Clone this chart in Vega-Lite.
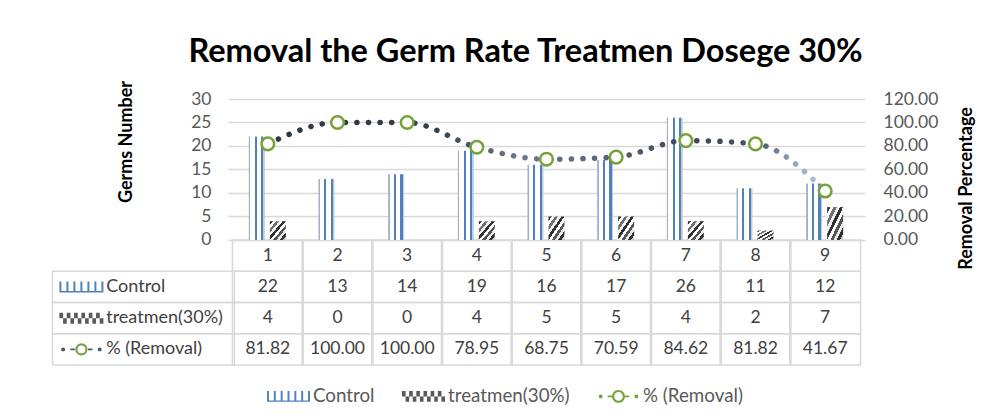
{
  "$schema": "https://vega.github.io/schema/vega-lite/v6.json",
  "width": 637,
  "height": 266,
  "autosize": {"type": "none"},
  "padding": {"left": 228, "top": 99, "right": 118, "bottom": 55},
  "background": "white",
  "config": {
    "view": {"stroke": null},
    "font": "Lato"
  },
  "title": {
    "text": "Removal the Germ Rate Treatmen Dosege 30%",
    "font": "Lato",
    "fontSize": 32.5,
    "fontWeight": "bold",
    "color": "#000000",
    "anchor": "middle",
    "frame": "group",
    "dx": -21,
    "offset": 12
  },
  "datasets": {
    "main": [
      {"cat": 1, "control": 22, "treat": 4, "removal": 81.82},
      {"cat": 2, "control": 13, "treat": 0, "removal": 100.0},
      {"cat": 3, "control": 14, "treat": 0, "removal": 100.0},
      {"cat": 4, "control": 19, "treat": 4, "removal": 78.95},
      {"cat": 5, "control": 16, "treat": 5, "removal": 68.75},
      {"cat": 6, "control": 17, "treat": 5, "removal": 70.59},
      {"cat": 7, "control": 26, "treat": 4, "removal": 84.62},
      {"cat": 8, "control": 11, "treat": 2, "removal": 81.82},
      {"cat": 9, "control": 12, "treat": 7, "removal": 41.67}
    ],
    "tablerows": [
      {"key": "control", "label": "Control"},
      {"key": "treat", "label": "treatmen(30%)"},
      {"key": "removal", "label": "% (Removal)"}
    ],
    "series": [
      {"series": "Control"},
      {"series": "treatmen(30%)"},
      {"series": "% (Removal)"}
    ]
  },
  "layer": [
    {
      "layer": [
        {
          "data": {"name": "main"},
          "mark": {"type": "point", "shape": "M-1,-0.4415H1V0.4415H-1Z", "size": 5010, "filled": false, "stroke": "#d9d9d9", "strokeWidth": 1.5, "opacity": 1},
          "encoding": {
            "x": {"field": "cat", "type": "quantitative", "scale": {"domain": [0.5, 9.5], "nice": false, "zero": false}, "axis": null},
            "y": {"datum": "hdr", "type": "nominal", "scale": {"type": "band", "domain": ["_a", "_b", "_c", "_d", "hdr", "control", "treat", "removal"], "paddingInner": 0, "paddingOuter": 0.256, "align": 1}, "axis": null}
          }
        },
        {
          "data": {"name": "main"},
          "transform": [{"fold": ["control", "treat", "removal"], "as": ["row", "val"]}],
          "mark": {"type": "point", "shape": "M-1,-0.4415H1V0.4415H-1Z", "size": 5010, "filled": false, "stroke": "#d9d9d9", "strokeWidth": 1.5, "opacity": 1},
          "encoding": {
            "x": {"field": "cat", "type": "quantitative", "axis": null},
            "y": {"field": "row", "type": "nominal", "axis": null}
          }
        },
        {
          "data": {"name": "tablerows"},
          "mark": {"type": "point", "shape": "M-1,-0.1717H1V0.1717H-1Z", "size": 33124, "filled": false, "stroke": "#d9d9d9", "strokeWidth": 1.5, "opacity": 1},
          "encoding": {
            "x": {"datum": -0.7857, "type": "quantitative", "axis": null},
            "y": {"field": "key", "type": "nominal", "axis": null}
          }
        },
        {
          "data": {"name": "main"},
          "mark": {"type": "text", "fontSize": 17.5, "color": "#404040", "align": "center", "baseline": "middle"},
          "encoding": {
            "x": {"field": "cat", "type": "quantitative", "axis": null},
            "y": {"datum": "hdr", "type": "nominal", "axis": null},
            "text": {"field": "cat", "type": "nominal"}
          }
        },
        {
          "data": {"name": "main"},
          "mark": {"type": "text", "fontSize": 17.5, "color": "#404040", "align": "center", "baseline": "middle"},
          "encoding": {
            "x": {"field": "cat", "type": "quantitative", "axis": null},
            "y": {"datum": "control", "type": "nominal", "axis": null},
            "text": {"field": "control", "type": "nominal"}
          }
        },
        {
          "data": {"name": "main"},
          "mark": {"type": "text", "fontSize": 17.5, "color": "#404040", "align": "center", "baseline": "middle"},
          "encoding": {
            "x": {"field": "cat", "type": "quantitative", "axis": null},
            "y": {"datum": "treat", "type": "nominal", "axis": null},
            "text": {"field": "treat", "type": "nominal"}
          }
        },
        {
          "data": {"name": "main"},
          "mark": {"type": "text", "fontSize": 17.5, "color": "#404040", "align": "center", "baseline": "middle"},
          "encoding": {
            "x": {"field": "cat", "type": "quantitative", "axis": null},
            "y": {"datum": "removal", "type": "nominal", "axis": null},
            "text": {"field": "removal", "type": "quantitative", "format": ".2f"}
          }
        },
        {
          "data": {"name": "tablerows"},
          "mark": {"type": "text", "fontSize": 18, "color": "#404040", "align": "left", "baseline": "middle"},
          "encoding": {
            "x": {"datum": -1.32, "type": "quantitative", "axis": null},
            "y": {"field": "key", "type": "nominal", "axis": null},
            "text": {"field": "label", "type": "nominal"}
          }
        },
        {
          "data": {"name": "tablerows"},
          "transform": [{"filter": {"field": "key", "equal": "control"}}],
          "mark": {"type": "point", "filled": true, "opacity": 1, "size": 1936, "fill": "#4f81bd", "strokeWidth": 0,
            "shape": "M-1,-0.25H-0.91V0.25H-1Z M-0.682,-0.25H-0.592V0.25H-0.682Z M-0.363,-0.25H-0.273V0.25H-0.363Z M-0.045,-0.25H0.045V0.25H-0.045Z M0.273,-0.25H0.363V0.25H0.273Z M0.591,-0.25H0.681V0.25H0.591Z M0.91,-0.25H1V0.25H0.91Z M-1,0.19H1V0.25H-1Z"},
          "encoding": {
            "x": {"datum": -1.676, "type": "quantitative", "axis": null},
            "y": {"field": "key", "type": "nominal", "axis": null}
          }
        },
        {
          "data": {"name": "tablerows"},
          "transform": [{"filter": {"field": "key", "equal": "treat"}}],
          "mark": {"type": "point", "filled": true, "opacity": 1, "size": 1936, "fill": "#595959", "strokeWidth": 0,
            "shape": "M-1,-0.25h0.1667v0.25h-0.1667Z M-0.6667,-0.25h0.1667v0.25h-0.1667Z M-0.3333,-0.25h0.1667v0.25h-0.1667Z M0,-0.25h0.1667v0.25h-0.1667Z M0.3333,-0.25h0.1667v0.25h-0.1667Z M0.6667,-0.25h0.1667v0.25h-0.1667Z M-0.8333,0h0.1667v0.25h-0.1667Z M-0.5,0h0.1667v0.25h-0.1667Z M-0.1667,0h0.1667v0.25h-0.1667Z M0.1667,0h0.1667v0.25h-0.1667Z M0.5,0h0.1667v0.25h-0.1667Z M0.8333,0h0.1667v0.25h-0.1667Z"},
          "encoding": {
            "x": {"datum": -1.676, "type": "quantitative", "axis": null},
            "y": {"field": "key", "type": "nominal", "axis": null}
          }
        },
        {
          "data": {"name": "tablerows"},
          "transform": [{"filter": {"field": "key", "equal": "removal"}}],
          "mark": {"type": "point", "filled": true, "opacity": 1, "size": 1936, "fill": "#4a5668", "strokeWidth": 0,
            "shape": "M-0.92,0A0.09,0.09,0,1,1,-0.74,0A0.09,0.09,0,1,1,-0.92,0Z M0.74,0A0.09,0.09,0,1,1,0.92,0A0.09,0.09,0,1,1,0.74,0Z M-0.5,-0.045H-0.3V0.045H-0.5Z M0.3,-0.045H0.5V0.045H0.3Z"},
          "encoding": {
            "x": {"datum": -1.676, "type": "quantitative", "axis": null},
            "y": {"field": "key", "type": "nominal", "axis": null}
          }
        },
        {
          "data": {"name": "tablerows"},
          "transform": [{"filter": {"field": "key", "equal": "removal"}}],
          "mark": {"type": "point", "shape": "circle", "filled": true, "opacity": 1, "size": 100, "fill": "#ffffff", "stroke": "#76a23a", "strokeWidth": 2.2},
          "encoding": {
            "x": {"datum": -1.676, "type": "quantitative", "axis": null},
            "y": {"field": "key", "type": "nominal", "axis": null}
          }
        }
      ]
    },
    {
      "layer": [
        {
          "data": {"name": "main"},
          "mark": {"type": "bar", "orient": "vertical", "width": 16, "xOffset": -11, "opacity": 1,
            "fill": {"gradient": "linear", "x1": 0, "y1": 0, "x2": 1, "y2": 0, "stops": [
              {"offset": 0, "color": "#9fb0c8"}, {"offset": 0.1, "color": "#9fb0c8"},
              {"offset": 0.1, "color": "#ffffff"}, {"offset": 0.36, "color": "#ffffff"},
              {"offset": 0.36, "color": "#4f81bd"}, {"offset": 0.5, "color": "#4f81bd"},
              {"offset": 0.5, "color": "#ffffff"}, {"offset": 0.76, "color": "#ffffff"},
              {"offset": 0.76, "color": "#4f81bd"}, {"offset": 0.9, "color": "#4f81bd"},
              {"offset": 0.9, "color": "#c3ccd8"}, {"offset": 1, "color": "#c3ccd8"}]}},
          "encoding": {
            "x": {"field": "cat", "type": "quantitative", "axis": null},
            "y": {"field": "control", "type": "quantitative", "scale": {"domain": [-26.6, 30], "nice": false, "zero": false},
              "axis": {"orient": "left", "values": [0, 5, 10, 15, 20, 25, 30], "grid": true, "gridColor": "#d9d9d9", "gridWidth": 1.5, "ticks": false, "domain": false, "labelPadding": 17, "labelFontSize": 17.5, "labelColor": "#595959", "title": "Germs Number", "titleFontSize": 18, "titleFontWeight": "bold", "titleColor": "#000000", "titleAngle": 270, "titleX": -101.5, "titleY": 42.5, "titleAlign": "center", "titleBaseline": "middle"}}
          }
        },
        {
          "data": {"name": "main"},
          "mark": {"type": "bar", "orient": "vertical", "width": 16, "xOffset": 10, "opacity": 1,
            "fill": {"gradient": "linear", "x1": 0, "y1": 0, "x2": 1, "y2": 1, "stops": [
              {"offset": 0, "color": "#303030"}, {"offset": 0.1, "color": "#303030"},
              {"offset": 0.1, "color": "#ffffff"}, {"offset": 0.2, "color": "#ffffff"},
              {"offset": 0.2, "color": "#707070"}, {"offset": 0.3, "color": "#707070"},
              {"offset": 0.3, "color": "#f0f0f0"}, {"offset": 0.4, "color": "#f0f0f0"},
              {"offset": 0.4, "color": "#303030"}, {"offset": 0.5, "color": "#303030"},
              {"offset": 0.5, "color": "#ffffff"}, {"offset": 0.6, "color": "#ffffff"},
              {"offset": 0.6, "color": "#555555"}, {"offset": 0.7, "color": "#555555"},
              {"offset": 0.7, "color": "#e8e8e8"}, {"offset": 0.8, "color": "#e8e8e8"},
              {"offset": 0.8, "color": "#303030"}, {"offset": 0.9, "color": "#303030"},
              {"offset": 0.9, "color": "#cccccc"}, {"offset": 1, "color": "#cccccc"}]}},
          "encoding": {
            "x": {"field": "cat", "type": "quantitative", "axis": null},
            "y": {"field": "treat", "type": "quantitative",
              "axis": {"orient": "left", "values": [0, 5, 10, 15, 20, 25, 30], "grid": true, "gridColor": "#d9d9d9", "gridWidth": 1.5, "ticks": false, "domain": false, "labelPadding": 17, "labelFontSize": 17.5, "labelColor": "#595959", "title": "Germs Number", "titleFontSize": 18, "titleFontWeight": "bold", "titleColor": "#000000", "titleAngle": 270, "titleX": -101.5, "titleY": 42.5, "titleAlign": "center", "titleBaseline": "middle"}}
          }
        }
      ]
    },
    {
      "layer": [
        {
          "data": {"name": "main"},
          "mark": {"type": "line", "interpolate": "monotone", "strokeWidth": 5.5, "strokeCap": "round", "strokeDash": [0.1, 11.5], "opacity": 1,
            "stroke": {"gradient": "linear", "x1": 0, "y1": 0, "x2": 1, "y2": 0, "stops": [
              {"offset": 0, "color": "#2c3644"}, {"offset": 0.3, "color": "#343f4e"}, {"offset": 0.45, "color": "#6a788b"},
              {"offset": 0.6, "color": "#5a6779"}, {"offset": 0.75, "color": "#3d4858"}, {"offset": 0.88, "color": "#465366"},
              {"offset": 0.94, "color": "#8ea4bf"}, {"offset": 1, "color": "#b6c8de"}]}},
          "encoding": {
            "x": {"field": "cat", "type": "quantitative", "axis": null},
            "y": {"field": "removal", "type": "quantitative", "scale": {"domain": [-106.4, 120], "nice": false, "zero": false},
              "axis": {"orient": "right", "values": [0, 20, 40, 60, 80, 100, 120], "format": ".2f", "grid": false, "ticks": false, "domain": false, "labelPadding": 18, "labelFontSize": 17.5, "labelColor": "#595959", "title": "Removal Percentage", "titleFontSize": 18, "titleFontWeight": "bold", "titleColor": "#000000", "titleAngle": 270, "titleX": 101, "titleY": 89, "titleAlign": "center", "titleBaseline": "middle"}}
          }
        },
        {
          "data": {"name": "main"},
          "mark": {"type": "point", "shape": "circle", "size": 160, "filled": true, "fill": "#ffffff", "stroke": "#76a23a", "strokeWidth": 2.5, "opacity": 1},
          "encoding": {
            "x": {"field": "cat", "type": "quantitative", "axis": null},
            "y": {"field": "removal", "type": "quantitative",
              "axis": {"orient": "right", "values": [0, 20, 40, 60, 80, 100, 120], "format": ".2f", "grid": false, "ticks": false, "domain": false, "labelPadding": 18, "labelFontSize": 17.5, "labelColor": "#595959", "title": "Removal Percentage", "titleFontSize": 18, "titleFontWeight": "bold", "titleColor": "#000000", "titleAngle": 270, "titleX": 101, "titleY": 89, "titleAlign": "center", "titleBaseline": "middle"}}
          }
        },
        {
          "data": {"name": "series"},
          "mark": {"type": "point", "filled": true, "size": 0, "opacity": 1},
          "encoding": {
            "x": {"datum": 5, "type": "quantitative", "axis": null},
            "color": {"field": "series", "type": "nominal",
              "scale": {"domain": ["Control", "treatmen(30%)", "% (Removal)"], "range": ["#4f81bd", "#595959", "#76a23a"]},
              "legend": {"orient": "none", "legendX": 39, "legendY": 275.5, "direction": "horizontal", "title": null, "symbolSize": 1849, "symbolStrokeWidth": 0, "labelFontSize": 18.75, "labelColor": "#595959", "labelOffset": 3, "columnPadding": 27, "padding": 0}},
            "shape": {"field": "series", "type": "nominal",
              "scale": {"domain": ["Control", "treatmen(30%)", "% (Removal)"], "range": [
                "M-1,-0.25H-0.91V0.25H-1Z M-0.682,-0.25H-0.592V0.25H-0.682Z M-0.363,-0.25H-0.273V0.25H-0.363Z M-0.045,-0.25H0.045V0.25H-0.045Z M0.273,-0.25H0.363V0.25H0.273Z M0.591,-0.25H0.681V0.25H0.591Z M0.91,-0.25H1V0.25H0.91Z M-1,0.19H1V0.25H-1Z",
                "M-1,-0.25h0.1667v0.25h-0.1667Z M-0.6667,-0.25h0.1667v0.25h-0.1667Z M-0.3333,-0.25h0.1667v0.25h-0.1667Z M0,-0.25h0.1667v0.25h-0.1667Z M0.3333,-0.25h0.1667v0.25h-0.1667Z M0.6667,-0.25h0.1667v0.25h-0.1667Z M-0.8333,0h0.1667v0.25h-0.1667Z M-0.5,0h0.1667v0.25h-0.1667Z M-0.1667,0h0.1667v0.25h-0.1667Z M0.1667,0h0.1667v0.25h-0.1667Z M0.5,0h0.1667v0.25h-0.1667Z M0.8333,0h0.1667v0.25h-0.1667Z",
                "M-0.92,0A0.09,0.09,0,1,1,-0.74,0A0.09,0.09,0,1,1,-0.92,0Z M0.74,0A0.09,0.09,0,1,1,0.92,0A0.09,0.09,0,1,1,0.74,0Z M-0.5,-0.045H-0.3V0.045H-0.5Z M0.3,-0.045H0.5V0.045H0.3Z M-0.3,0A0.3,0.3,0,1,1,0.3,0A0.3,0.3,0,1,1,-0.3,0Z M-0.2,0A0.2,0.2,0,1,0,0.2,0A0.2,0.2,0,1,0,-0.2,0Z"]},
              "legend": {"orient": "none", "legendX": 39, "legendY": 275.5, "direction": "horizontal", "title": null, "symbolSize": 1849, "symbolStrokeWidth": 0, "labelFontSize": 18.75, "labelColor": "#595959", "labelOffset": 3, "columnPadding": 27, "padding": 0}}
          }
        }
      ]
    }
  ],
  "resolve": {"scale": {"y": "independent"}}
}
